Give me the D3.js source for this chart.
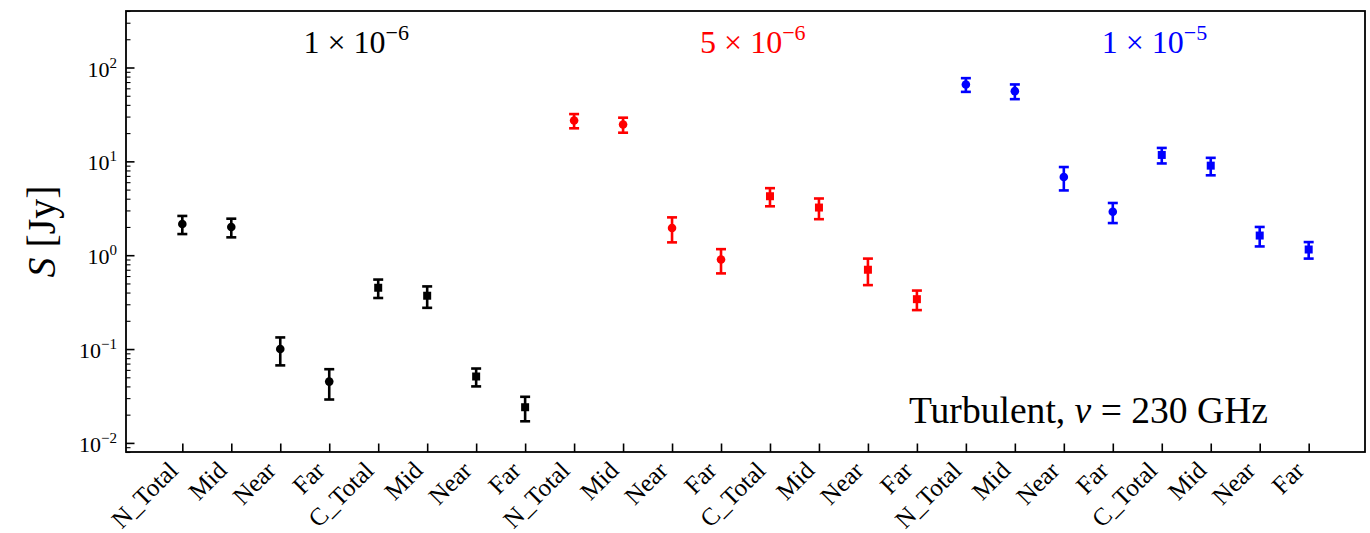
<!DOCTYPE html>
<html>
<head>
<meta charset="utf-8">
<script src="https://cdn.jsdelivr.net/npm/d3@7"></script>
<style>
  html, body { margin: 0; padding: 0; background: #fff; }
  svg { display: block; }
</style>
</head>
<body>
<svg id="chart" width="1370" height="533"></svg>
<script>
// Category labels along the x axis (two source groups, each Total/Mid/Near/Far), repeated per rate
const tickLabels = [
  "N_Total", "Mid", "Near", "Far", "C_Total", "Mid", "Near", "Far",
  "N_Total", "Mid", "Near", "Far", "C_Total", "Mid", "Near", "Far",
  "N_Total", "Mid", "Near", "Far", "C_Total", "Mid", "Near", "Far"
];
// Marker shape per position in a block of eight
const markerShapes = ["circle", "circle", "circle", "circle", "square", "square", "square", "square"];

// Flux density S [Jy] and symmetric 1-sigma errors for each rate
const rateLabels = [["1", "\u22126"], ["5", "\u22126"], ["1", "\u22125"]];
const rateColors = ["#000000", "#ff0000", "#0000ff"];
const values1e6 = [2.15, 2.0, 0.10, 0.045, 0.45, 0.37, 0.051, 0.024];
const errors1e6 = [0.47, 0.45, 0.033, 0.016, 0.10, 0.095, 0.011, 0.007];
const values5e6 = [27.2, 24.7, 1.95, 0.90, 4.25, 3.22, 0.70, 0.34];
const errors5e6 = [4.7, 4.5, 0.58, 0.26, 0.93, 0.80, 0.22, 0.08];
const values1e5 = [66, 56, 6.8, 2.9, 11.7, 9.0, 1.62, 1.15];
const errors1e5 = [11, 10, 1.9, 0.70, 2.2, 1.9, 0.38, 0.23];
const yTickExponents = [-2, -1, 0, 1, 2];

const seriesValues = [values1e6, values5e6, values1e5];
const seriesErrors = [errors1e6, errors5e6, errors1e5];

const serif = "Liberation Serif";
const svg = d3.select("#chart");
const margin = { left: 126, right: 5, top: 11, bottom: 81 };
const W = 1370, H = 533;
const plotL = margin.left, plotR = W - margin.right;
const plotT = margin.top, plotB = H - margin.bottom;

const x = d3.scaleLinear().domain([-1.15, tickLabels.length - 1 + 1.15]).range([plotL, plotR]);
const y = d3.scaleLog().domain([0.008, 400]).range([plotB, plotT]);

// Flatten the three series into points
const points = [];
seriesValues.forEach((vals, s) => {
  vals.forEach((v, i) => {
    points.push({
      idx: s * 8 + i,
      v: v,
      e: seriesErrors[s][i],
      color: rateColors[s],
      shape: markerShapes[i]
    });
  });
});

// Axes (ticks pointing inward)
const xAxis = d3.axisBottom(x)
  .tickValues(d3.range(tickLabels.length))
  .tickSizeInner(-8.5).tickSizeOuter(0)
  .tickFormat("");
const gx = svg.append("g").attr("transform", `translate(0,${plotB})`).call(xAxis);
gx.select(".domain").remove();
gx.selectAll(".tick line").attr("stroke", "#000").attr("stroke-width", 1.6);

// Minor y ticks
const minorVals = [];
for (let p = -3; p <= 2; p++) {
  for (let m = 2; m <= 9; m++) {
    const v = m * Math.pow(10, p);
    if (v >= 0.008 && v <= 400) minorVals.push(v);
  }
}
const yMinor = d3.axisLeft(y).tickValues(minorVals).tickSizeInner(-4.5).tickSizeOuter(0).tickFormat("");
const gyMinor = svg.append("g").attr("transform", `translate(${plotL},0)`).call(yMinor);
gyMinor.select(".domain").remove();
gyMinor.selectAll(".tick line").attr("stroke", "#000").attr("stroke-width", 1.1);

const yMajor = d3.axisLeft(y).tickValues(yTickExponents.map(p => Math.pow(10, p)))
  .tickSizeInner(-8.5).tickSizeOuter(0).tickFormat("");
const gy = svg.append("g").attr("transform", `translate(${plotL},0)`).call(yMajor);
gy.select(".domain").remove();
gy.selectAll(".tick line").attr("stroke", "#000").attr("stroke-width", 1.6);

// y tick labels: 10^p
yTickExponents.forEach(p => {
  const t = svg.append("text")
    .attr("x", plotL - 9)
    .attr("y", y(Math.pow(10, p)) + 9)
    .attr("text-anchor", "end")
    .style("font-family", serif)
    .attr("font-size", 22)
    .attr("fill", "#000");
  t.append("tspan").text("10");
  t.append("tspan").attr("dy", -9).attr("font-size", 15).text(p < 0 ? "\u2212" + Math.abs(p) : String(p));
});

// x tick labels, rotated 45 degrees
const xFont = 25;
tickLabels.forEach((lab, i) => {
  const px = x(i) - 3;
  const py = plotB + 20;
  svg.append("text")
    .attr("transform", `translate(${px},${py}) rotate(-45)`)
    .attr("text-anchor", "end")
    .style("font-family", serif)
    .attr("font-size", xFont)
    .attr("fill", "#000")
    .text(lab);
});

// Plot frame
svg.append("rect")
  .attr("x", plotL).attr("y", plotT)
  .attr("width", plotR - plotL).attr("height", plotB - plotT)
  .attr("fill", "none").attr("stroke", "#000").attr("stroke-width", 1.8);

// Error bars
const capHalf = 5;
const eb = svg.append("g").selectAll("g").data(points).join("g");
eb.append("line")
  .attr("x1", d => x(d.idx)).attr("x2", d => x(d.idx))
  .attr("y1", d => y(d.v + d.e)).attr("y2", d => y(d.v - d.e))
  .attr("stroke", d => d.color).attr("stroke-width", 2.6);
eb.append("line")
  .attr("x1", d => x(d.idx) - capHalf).attr("x2", d => x(d.idx) + capHalf)
  .attr("y1", d => y(d.v + d.e)).attr("y2", d => y(d.v + d.e))
  .attr("stroke", d => d.color).attr("stroke-width", 2.6);
eb.append("line")
  .attr("x1", d => x(d.idx) - capHalf).attr("x2", d => x(d.idx) + capHalf)
  .attr("y1", d => y(d.v - d.e)).attr("y2", d => y(d.v - d.e))
  .attr("stroke", d => d.color).attr("stroke-width", 2.6);

// Markers: circles for N group, squares for C group
eb.filter(d => d.shape === "circle").append("circle")
  .attr("cx", d => x(d.idx)).attr("cy", d => y(d.v))
  .attr("r", 4.3).attr("fill", d => d.color);
eb.filter(d => d.shape === "square").append("rect")
  .attr("x", d => x(d.idx) - 4).attr("y", d => y(d.v) - 4)
  .attr("width", 8).attr("height", 8).attr("fill", d => d.color);

// Rate labels above each block
const rateLabelPos = [3.55, 11.65, 19.85];
rateLabels.forEach((lab, s) => {
  const t = svg.append("text")
    .attr("x", x(rateLabelPos[s]))
    .attr("y", 53)
    .attr("text-anchor", "middle")
    .style("font-family", serif)
    .attr("font-size", 32)
    .attr("fill", rateColors[s]);
  t.append("tspan").text(lab[0] + " \u00d7 10");
  t.append("tspan").attr("dy", -13).attr("font-size", 22).text(lab[1]);
});

// Annotation
const ann = svg.append("text")
  .attr("x", 1268).attr("y", 423)
  .attr("text-anchor", "end")
  .style("font-family", serif)
  .attr("font-size", 37.6)
  .attr("fill", "#000");
ann.append("tspan").text("Turbulent, ");
ann.append("tspan").attr("font-style", "italic").text("\u03bd");
ann.append("tspan").text(" = 230 GHz");

// y axis label
const yl = svg.append("text")
  .attr("transform", `translate(55,${(plotT + plotB) / 2}) rotate(-90)`)
  .attr("text-anchor", "middle")
  .style("font-family", serif)
  .attr("font-size", 40)
  .attr("fill", "#000");
yl.append("tspan").attr("font-style", "italic").text("S");
yl.append("tspan").text(" [Jy]");
</script>
</body>
</html>
